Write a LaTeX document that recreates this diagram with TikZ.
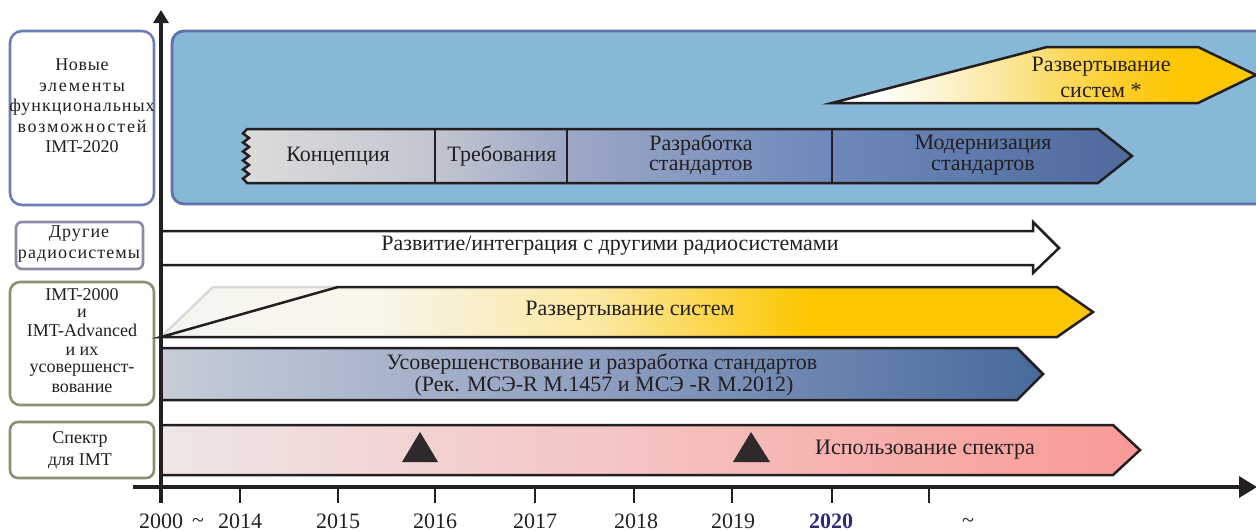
\documentclass[tikz,border=0pt]{standalone}
\usepackage{fontspec}
\setmainfont{Liberation Serif}
\newfontfamily\spacedN{Liberation Serif}[LetterSpace=4]
\newfontfamily\spacedA{Liberation Serif}[LetterSpace=10]
\newfontfamily\spacedB{Liberation Serif}[LetterSpace=5.5]
\newfontfamily\spacedC{Liberation Serif}[LetterSpace=6]
\usetikzlibrary{arrows.meta}
\definecolor{txt}{HTML}{231F20}
\definecolor{bigfill}{HTML}{87B8D8}
\definecolor{bigline}{HTML}{6070A8}
\definecolor{lbA}{HTML}{6D7DB6}
\definecolor{lbB}{HTML}{8A8AA2}
\definecolor{lbC}{HTML}{8E8E70}
\definecolor{yearblue}{HTML}{2E2A78}
% concept gradient
\definecolor{cA}{HTML}{DCDCDC}
\definecolor{cB}{HTML}{C2C6D0}
\definecolor{cC}{HTML}{9CA8C6}
\definecolor{cD}{HTML}{6E88BA}
\definecolor{cE}{HTML}{4E6A9E}
% yellow
\definecolor{yW}{HTML}{FFFFFF}
\definecolor{yP}{HTML}{FBE8A0}
\definecolor{yM}{HTML}{FCD13A}
\definecolor{yY}{HTML}{FCC600}
\definecolor{dA}{HTML}{F6F6F2}
\definecolor{dB}{HTML}{F8F5EA}
% blue bar
\definecolor{bA}{HTML}{C6CDD8}
\definecolor{bB}{HTML}{8E9EC0}
\definecolor{bC}{HTML}{476A9C}
% spectrum
\definecolor{sA}{HTML}{EEE6E6}
\definecolor{sB}{HTML}{F4C6C4}
\definecolor{sC}{HTML}{F89A96}
\pgfdeclarehorizontalshading{concsh}{100bp}{color(0bp)=(cA); color(25bp)=(cA); color(35.7bp)=(cB); color(43.2bp)=(cC); color(58.1bp)=(cD); color(75bp)=(cE); color(100bp)=(cE)}
\pgfdeclarehorizontalshading{topysh}{100bp}{color(0bp)=(yW); color(25bp)=(yW); color(30.7bp)=(yW); color(44.8bp)=(yP); color(56.6bp)=(yM); color(66bp)=(yY); color(75bp)=(yY); color(100bp)=(yY)}
\pgfdeclarehorizontalshading{depsh}{100bp}{color(0bp)=(dA); color(25bp)=(dA); color(36.7bp)=(dB); color(48.6bp)=(yP); color(59.8bp)=(yY); color(75bp)=(yY); color(100bp)=(yY)}
\pgfdeclarehorizontalshading{bluesh}{100bp}{color(0bp)=(bA); color(25bp)=(bA); color(50bp)=(bB); color(75bp)=(bC); color(100bp)=(bC)}
\pgfdeclarehorizontalshading{specsh}{100bp}{color(0bp)=(sA); color(25bp)=(sA); color(47.4bp)=(sB); color(75bp)=(sC); color(100bp)=(sC)}
\tikzset{
  bar/.style={draw=txt, line width=1.25pt, line join=miter},
  axisline/.style={draw=txt, line width=1.6pt},
  tickline/.style={draw=txt, line width=1.4pt},
  lbox/.style={fill=white, line width=1.3pt},
  ltxt/.style={text=txt, font=\fontsize{9}{10.25}\selectfont, align=center, inner sep=0pt},
  mtxt/.style={text=txt, font=\fontsize{11}{11.4}\selectfont, align=center, inner sep=0pt},
  ytxt/.style={text=txt, font=\fontsize{11}{12}\selectfont, inner sep=0pt},
  trimark/.style={fill=txt!95!white, draw=none}
}
\begin{document}
\begin{tikzpicture}[x=0.5pt,y=-0.5pt]
\useasboundingbox (0,0) rectangle (1256,530);
% big blue background box
\draw[fill=bigfill, draw=bigline, line width=1.4pt, rounded corners=6pt] (172,31) rectangle (1290,204);
% left boxes
\draw[lbox, draw=lbA, rounded corners=6pt] (10,31) rectangle (154,205);
\draw[lbox, draw=lbB, rounded corners=3pt] (16,222) rectangle (143,269);
\draw[lbox, draw=lbC, rounded corners=5pt] (10,282) rectangle (154,405);
\draw[lbox, draw=lbC, rounded corners=4pt] (10,422) rectangle (154,478);
\node[ltxt] (lab1) at (82,106) {{\spacedN Новые}\\{\spacedA элементы}\\{\spacedB функциональных}\\{\spacedA возможностей}\\IMT-2020};
\node[ltxt, font=\fontsize{9}{10.75}\spacedC] (lab2) at (79,244) {Другие\\радиосистемы};
\node[ltxt] (lab3a) at (82,295) {IMT-2000};
\node[ltxt] (lab3b) at (82,313) {и};
\node[ltxt] (lab3c) at (82,330) {IMT-Advanced};
\node[ltxt] (lab3d) at (82,351) {и их};
\node[ltxt] (lab3e) at (82,370) {усовершенст-};
\node[ltxt] (lab3f) at (82,388) {вование};
\node[ltxt, font=\fontsize{9}{11}\selectfont] (lab4) at (80,450) {Спектр\\для IMT};
% top yellow arrow
\shadedraw[bar, shading=topysh] (832,103) -- (1047,47) -- (1198,47) -- (1256,75) -- (1198,103) -- cycle;
\node[mtxt] (dep2a) at (1101,67) {Развертывание};
\node[mtxt] (dep2b) at (1101,90) {систем *};
% concept bar
\shadedraw[bar, shading=concsh] (247,129) -- (1098,129) -- (1132,156) -- (1098,183) -- (247,183)
  -- (243,178.5) -- (249,174) -- (243,169.5) -- (249,165) -- (243,160.5) -- (249,156)
  -- (243,151.5) -- (249,147) -- (243,142.5) -- (249,138) -- (243,133.5) -- cycle;
\draw[bar] (435,129) -- (435,183);
\draw[bar] (567,129) -- (567,183);
\draw[bar] (832,129) -- (832,183);
\node[mtxt] (conc) at (338,156) {Концепция};
\node[mtxt] (req) at (502,156) {Требования};
\node[mtxt] (devA) at (701,145) {Разработка};
\node[mtxt] (devB) at (701,168) {стандартов};
\node[mtxt] (modA) at (983,145) {Модернизация};
\node[mtxt] (modB) at (983,168) {стандартов};
% other radio systems arrow
\draw[bar, fill=white] (161,231) -- (1033,231) -- (1033,222) -- (1059,248) -- (1033,273) -- (1033,265) -- (161,265);
\node[mtxt] (other) at (610,246) {Развитие/интеграция с другими радиосистемами};
% deployment bar
\shade[shading=depsh] (161,337) -- (213,287) -- (1057,287) -- (1093,312) -- (1057,337) -- cycle;
\draw[draw=black!15, line width=1.25pt] (161,337) -- (213,287) -- (338,287);
\draw[bar] (161,337) -- (338,287) -- (1057,287) -- (1093,312) -- (1057,337) -- cycle;
\node[mtxt] (dep) at (630,311) {Развертывание систем};
% standards bar
\shadedraw[bar, shading=bluesh] (161,348) -- (1017,348) -- (1043,374) -- (1017,400) -- (161,400) -- cycle;
\node[mtxt] (stdA) at (602,364) {Усовершенствование и разработка стандартов};
\node[mtxt] (stdB) at (604,386) {(Рек. МСЭ-R M.1457 и МСЭ -R M.2012)};
% spectrum bar
\shadedraw[bar, shading=specsh] (161,425) -- (1113,425) -- (1140,450) -- (1113,475) -- (161,475) -- cycle;
\fill[trimark] (402,462) -- (420,432) -- (438,462) -- cycle;
\fill[trimark] (733,462) -- (751,432) -- (770,462) -- cycle;
\node[mtxt] (spec) at (925,450) {Использование спектра};
% axes
\coordinate (ybot) at (161,503);
\coordinate (ytop) at (161,10);
\coordinate (xl) at (133,487);
\coordinate (xr) at (1257,487);
\draw[axisline, -{Triangle[length=6.5pt,width=7.5pt]}] (ybot) -- (ytop);
\draw[axisline, -{Triangle[length=9pt,width=10.5pt]}] (xl) -- (xr);
\foreach \tx in {240,338,435,535,634,732,832,929} \draw[tickline] (\tx,487) -- (\tx,503);
\node[ytxt] (y2000) at (161,521) {2000};
\node[ytxt, anchor=base] (ytil) at (198,527) {\textasciitilde};
\node[ytxt] (y2014) at (240,521) {2014};
\node[ytxt] (y2015) at (338,521) {2015};
\node[ytxt] (y2016) at (435,521) {2016};
\node[ytxt] (y2017) at (535,521) {2017};
\node[ytxt] (y2018) at (636,521) {2018};
\node[ytxt] (y2019) at (733,521) {2019};
\node[ytxt, text=yearblue, font=\fontsize{11}{12}\bfseries] (y2020) at (831,521) {2020};
\node[ytxt, anchor=base] (ytil2) at (968,527) {\textasciitilde};
\end{tikzpicture}
\end{document}
